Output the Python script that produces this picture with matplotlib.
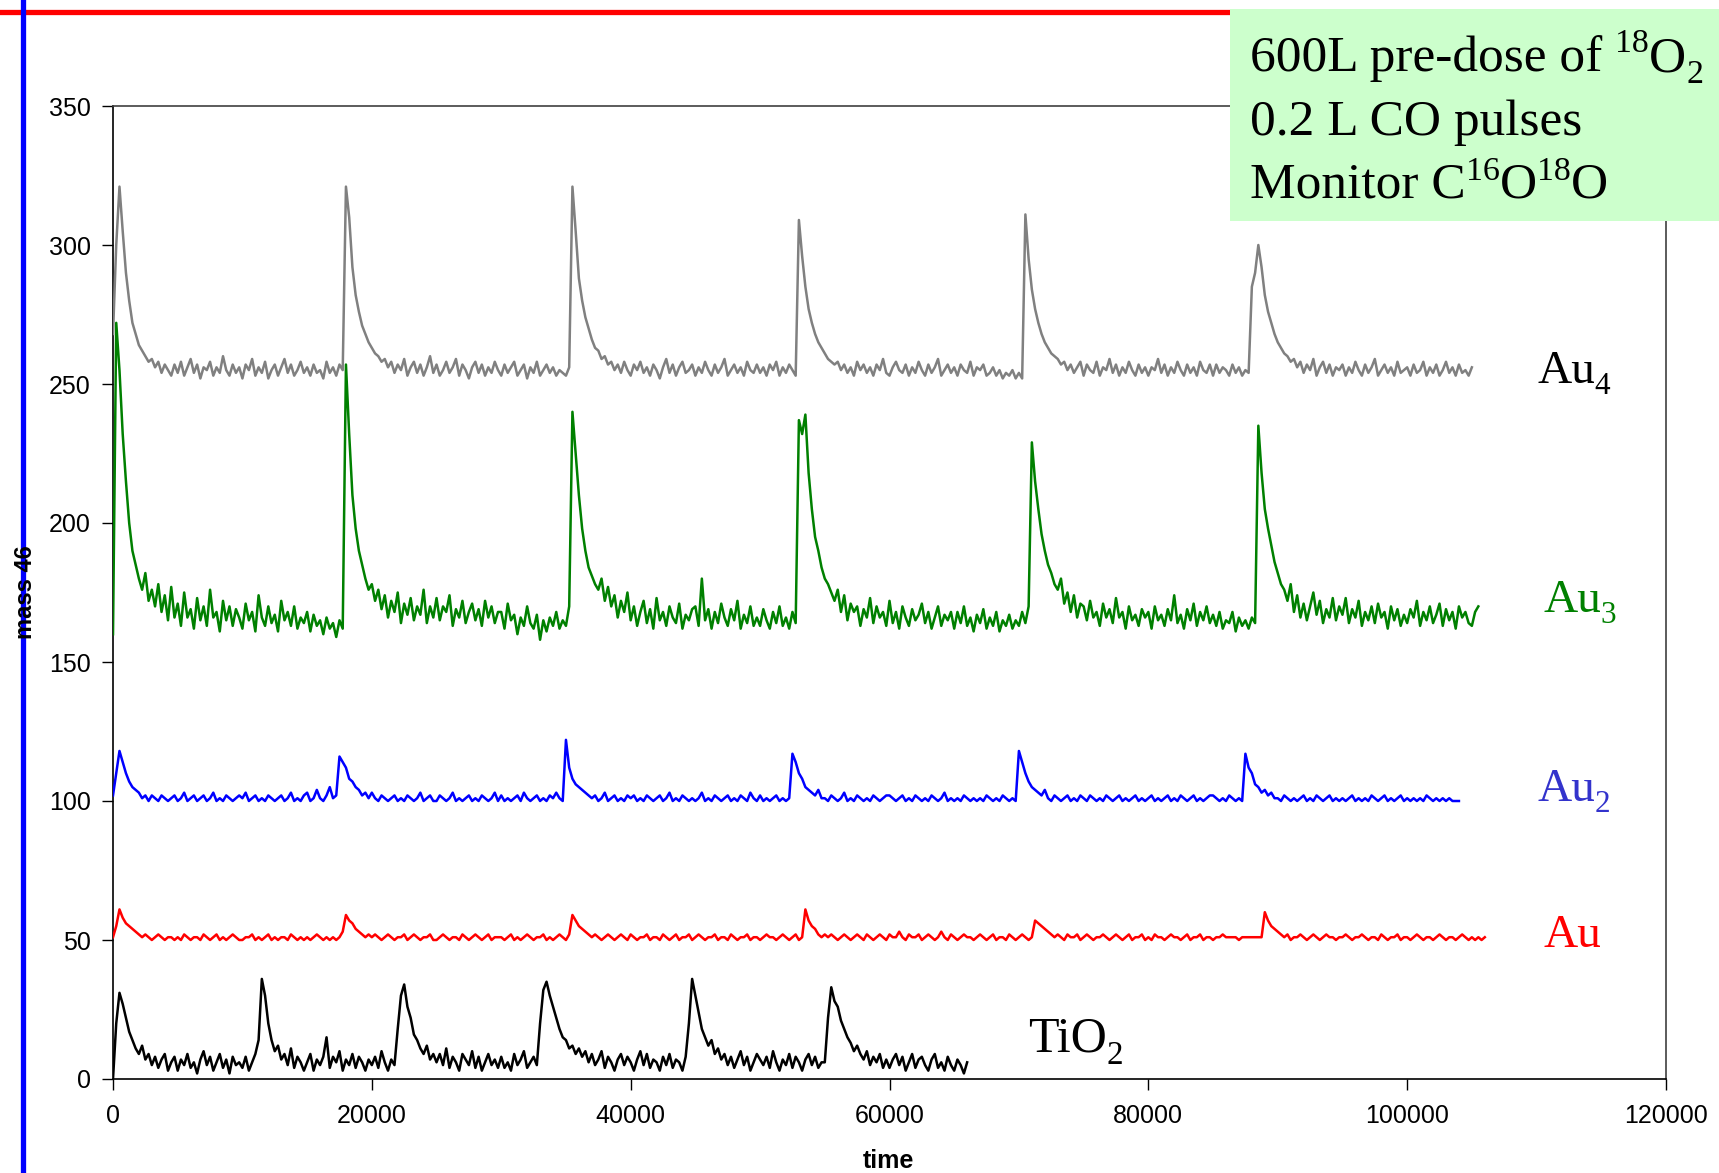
import numpy as np
import matplotlib
matplotlib.use("Agg")
import matplotlib.pyplot as plt
from matplotlib.lines import Line2D
from matplotlib.patches import Rectangle

# ---------------- data (time step 250) ----------------
time_step = 250

au4 = [
    268, 300, 321, 305, 290, 280, 272, 268, 264, 262, 260, 258, 259, 256, 258, 254, 257, 255, 253, 257,
    254, 258, 253, 256, 259, 254, 257, 252, 256, 255, 258, 253, 256, 254, 260, 255, 253, 257, 254, 256,
    252, 257, 255, 259, 253, 256, 254, 258, 252, 255, 257, 253, 256, 259, 254, 257, 253, 255, 258, 254,
    256, 253, 257, 254, 255, 252, 258, 254, 256, 253, 257, 255, 321, 310, 292, 282, 276, 271, 268, 265,
    263, 261, 260, 258, 259, 256, 258, 254, 257, 255, 259, 253, 256, 258, 254, 257, 253, 256, 260, 254,
    257, 253, 255, 258, 254, 256, 259, 253, 257, 255, 252, 256, 258, 254, 257, 253, 256, 254, 258, 255,
    253, 257, 254, 256, 258, 253, 255, 257, 252, 256, 254, 258, 253, 255, 257, 254, 256, 253, 255, 254,
    253, 256, 321, 305, 288, 280, 274, 270, 266, 263, 262, 259, 260, 257, 258, 255, 257, 254, 258, 255,
    253, 257, 255, 258, 254, 256, 253, 257, 255, 252, 256, 259, 254, 257, 253, 256, 258, 254, 255, 257,
    253, 256, 254, 258, 255, 253, 257, 254, 256, 259, 253, 255, 257, 254, 256, 253, 258, 255, 254, 257,
    254, 256, 253, 257, 255, 258, 253, 256, 254, 257, 255, 253, 309, 296, 285, 277, 272, 268, 265, 263,
    261, 259, 258, 257, 258, 255, 257, 254, 256, 253, 258, 255, 257, 254, 256, 253, 257, 255, 259, 254,
    253, 256, 258, 255, 254, 257, 253, 256, 254, 258, 255, 253, 257, 254, 256, 259, 253, 255, 257, 254,
    256, 253, 257, 255, 254, 258, 253, 256, 255, 257, 253, 254, 256, 253, 255, 252, 254, 253, 255, 252,
    254, 252, 311, 295, 284, 277, 272, 268, 265, 263, 261, 260, 259, 257, 258, 255, 257, 254, 256, 258,
    253, 257, 255, 254, 258, 253, 256, 255, 259, 254, 257, 253, 256, 254, 258, 255, 253, 257, 254, 256,
    253, 256, 255, 259, 254, 257, 253, 256, 254, 258, 255, 253, 257, 254, 256, 253, 258, 255, 254, 257,
    253, 257, 254, 256, 255, 253, 257, 254, 256, 253, 255, 254, 285, 290, 300, 292, 282, 276, 272, 268,
    265, 263, 261, 260, 258, 259, 256, 258, 254, 257, 255, 259, 253, 256, 258, 254, 257, 253, 256, 255,
    257, 253, 256, 254, 258, 255, 253, 257, 254, 256, 259, 253, 255, 257, 254, 256, 253, 258, 254, 255,
    256, 253, 257, 254, 255, 258, 253, 256, 254, 257, 253, 255, 258, 254, 256, 253, 257, 254, 255, 253,
    256,
]

au3 = [
    160, 272, 255, 232, 215, 200, 190, 185, 180, 176, 182, 172, 176, 170, 178, 168, 174, 165, 177, 166,
    171, 163, 175, 166, 169, 162, 173, 165, 170, 163, 176, 166, 168, 161, 172, 165, 170, 163, 169, 166,
    162, 171, 165, 168, 161, 174, 166, 163, 170, 164, 167, 161, 172, 165, 168, 163, 170, 162, 166, 164,
    168, 161, 167, 163, 165, 160, 166, 162, 164, 159, 165, 162, 257, 232, 210, 198, 190, 185, 180, 176,
    178, 172, 176, 169, 174, 166, 172, 168, 175, 164, 171, 167, 173, 165, 170, 167, 176, 164, 170, 166,
    173, 165, 170, 168, 174, 163, 169, 166, 172, 164, 168, 171, 165, 169, 163, 172, 166, 170, 164, 168,
    168, 162, 171, 165, 167, 160, 166, 163, 170, 164, 162, 167, 158, 165, 161, 166, 163, 168, 162, 165,
    163, 170, 240, 225, 210, 198, 190, 184, 181, 178, 176, 180, 172, 177, 170, 174, 166, 172, 168, 175,
    165, 170, 163, 168, 172, 164, 169, 162, 173, 165, 168, 163, 170, 166, 164, 171, 162, 167, 165, 169,
    170, 163, 180, 165, 169, 162, 168, 164, 171, 166, 163, 169, 165, 172, 162, 167, 164, 170, 163, 166,
    163, 169, 165, 162, 168, 164, 170, 163, 166, 162, 168, 164, 237, 232, 239, 218, 205, 195, 190, 184,
    180, 178, 175, 172, 176, 168, 174, 165, 171, 168, 170, 163, 169, 166, 173, 164, 170, 166, 168, 163,
    172, 164, 168, 162, 170, 166, 163, 169, 165, 167, 171, 164, 168, 162, 166, 170, 163, 167, 165, 168,
    162, 168, 164, 170, 163, 166, 161, 167, 164, 169, 162, 166, 163, 168, 161, 165, 163, 167, 162, 165,
    163, 168, 164, 170, 229, 215, 205, 196, 190, 185, 182, 178, 176, 180, 171, 175, 168, 174, 166, 171,
    170, 165, 172, 166, 168, 163, 171, 166, 169, 164, 173, 166, 168, 162, 170, 165, 167, 163, 169, 166,
    168, 162, 170, 165, 167, 163, 169, 165, 174, 164, 167, 162, 169, 165, 171, 163, 168, 165, 170, 164,
    167, 163, 168, 162, 165, 164, 168, 161, 166, 163, 165, 162, 166, 164, 235, 218, 205, 198, 192, 186,
    182, 178, 176, 172, 178, 168, 174, 166, 171, 165, 170, 175, 167, 172, 164, 169, 166, 173, 165, 170,
    167, 173, 164, 169, 166, 172, 163, 168, 165, 170, 164, 171, 166, 168, 162, 170, 165, 169, 163, 167,
    164, 169, 166, 172, 163, 168, 165, 170, 164, 167, 171, 163, 169, 165, 168, 162, 170, 166, 168, 164,
    163, 168, 170,
]

au2 = [
    102, 110, 118, 114, 110, 107, 105, 104, 103, 101, 102, 100, 102, 101, 100, 102, 101, 100, 101, 102,
    100, 101, 103, 100, 101, 102, 100, 101, 102, 100, 101, 103, 100, 101, 100, 102, 101, 100, 101, 102,
    101, 103, 100, 101, 102, 100, 101, 100, 102, 101, 100, 101, 102, 100, 101, 103, 100, 101, 100, 102,
    103, 100, 101, 104, 101, 100, 102, 105, 101, 102, 116, 114, 112, 108, 107, 105, 104, 102, 103, 101,
    103, 101, 100, 102, 101, 100, 101, 102, 100, 101, 100, 102, 101, 100, 101, 103, 100, 101, 102, 100,
    100, 102, 101, 100, 101, 103, 100, 101, 100, 101, 102, 100, 101, 100, 102, 101, 100, 101, 103, 100,
    102, 100, 101, 100, 101, 102, 100, 103, 101, 100, 101, 102, 100, 101, 100, 102, 101, 103, 101, 100,
    122, 112, 108, 106, 105, 104, 103, 102, 101, 102, 100, 101, 103, 100, 101, 102, 100, 101, 100, 102,
    101, 102, 100, 101, 100, 102, 101, 100, 101, 102, 100, 101, 103, 100, 101, 100, 102, 101, 100, 101,
    100, 101, 103, 100, 101, 100, 102, 101, 100, 101, 102, 100, 101, 100, 102, 101, 100, 103, 101, 100,
    102, 100, 101, 100, 101, 102, 100, 101, 100, 101, 117, 114, 110, 108, 105, 104, 103, 102, 104, 101,
    101, 100, 102, 101, 100, 101, 103, 100, 101, 100, 102, 101, 100, 101, 100, 102, 101, 100, 101, 102,
    102, 101, 100, 101, 102, 100, 101, 100, 102, 101, 100, 101, 100, 102, 101, 100, 101, 103, 100, 101,
    100, 101, 100, 102, 101, 100, 101, 100, 101, 100, 102, 101, 100, 101, 100, 102, 101, 100, 101, 100,
    118, 114, 110, 107, 105, 104, 103, 102, 104, 101, 100, 102, 101, 100, 101, 102, 100, 101, 100, 102,
    101, 100, 102, 101, 100, 101, 100, 102, 101, 100, 101, 102, 100, 101, 100, 101, 102, 100, 101, 100,
    101, 102, 100, 101, 100, 101, 102, 100, 101, 100, 102, 101, 100, 101, 102, 100, 101, 100, 101, 102,
    102, 101, 100, 101, 100, 102, 101, 100, 101, 100, 117, 112, 110, 106, 105, 103, 104, 102, 103, 101,
    101, 100, 102, 101, 100, 101, 100, 101, 102, 100, 101, 100, 102, 101, 100, 101, 102, 100, 101, 100,
    101, 100, 101, 102, 100, 101, 100, 101, 100, 102, 101, 100, 101, 102, 100, 101, 100, 101, 102, 100,
    101, 100, 101, 100, 101, 100, 102, 101, 100, 101, 100, 101, 100, 101, 100, 100, 100,
]

au1 = [
    51, 55, 61, 58, 56, 55, 54, 53, 52, 51, 52, 51, 50, 51, 52, 51, 50, 51, 51, 50,
    51, 50, 52, 51, 50, 51, 51, 50, 52, 51, 50, 51, 52, 50, 51, 50, 51, 52, 51, 50,
    50, 51, 51, 52, 50, 51, 50, 51, 52, 50, 51, 50, 51, 51, 50, 52, 51, 50, 51, 50,
    51, 50, 51, 52, 51, 50, 51, 50, 51, 50, 51, 53, 59, 57, 56, 54, 53, 52, 51, 52,
    51, 52, 51, 50, 51, 52, 51, 50, 51, 51, 52, 50, 51, 52, 51, 50, 51, 51, 52, 50,
    50, 51, 52, 51, 50, 51, 51, 50, 52, 51, 50, 51, 52, 51, 50, 51, 52, 50, 51, 51,
    51, 50, 51, 52, 50, 51, 50, 51, 52, 51, 50, 51, 51, 52, 50, 51, 50, 51, 52, 51,
    50, 52, 59, 57, 55, 54, 53, 52, 51, 52, 51, 50, 51, 52, 51, 50, 51, 52, 51, 50,
    52, 51, 50, 51, 51, 52, 50, 51, 51, 50, 52, 51, 50, 51, 52, 50, 51, 51, 52, 50,
    51, 52, 51, 50, 51, 51, 52, 50, 51, 51, 50, 52, 51, 50, 51, 51, 52, 50, 51, 51,
    50, 51, 52, 51, 51, 50, 51, 52, 51, 50, 51, 52, 50, 51, 61, 57, 55, 54, 52, 51,
    52, 51, 52, 51, 50, 51, 52, 51, 50, 51, 52, 51, 50, 52, 51, 50, 51, 52, 51, 50,
    52, 51, 51, 53, 51, 50, 52, 51, 51, 52, 50, 51, 52, 51, 50, 51, 53, 51, 50, 52,
    51, 50, 51, 52, 51, 51, 50, 51, 52, 51, 50, 51, 52, 50, 51, 51, 50, 52, 51, 50,
    51, 52, 51, 50, 51, 57, 56, 55, 54, 53, 52, 51, 52, 51, 50, 52, 51, 51, 52, 50,
    51, 52, 51, 50, 51, 51, 52, 51, 50, 51, 52, 51, 50, 51, 52, 50, 51, 51, 52, 50,
    51, 50, 52, 51, 51, 50, 51, 52, 51, 51, 50, 51, 52, 50, 51, 51, 52, 50, 51, 51,
    50, 51, 51, 52, 51, 51, 51, 51, 50, 51, 51, 51, 51, 51, 51, 51, 60, 57, 55, 54,
    53, 52, 51, 52, 50, 51, 51, 52, 51, 50, 51, 52, 51, 50, 51, 52, 51, 51, 50, 51,
    51, 52, 51, 50, 51, 51, 52, 51, 50, 51, 51, 50, 52, 51, 50, 51, 51, 52, 50, 51,
    51, 50, 51, 52, 51, 50, 51, 51, 50, 51, 52, 51, 50, 51, 51, 50, 51, 52, 51, 50,
    51, 50, 51, 50, 51,
]

tio2 = [
    0, 20, 31, 27, 22, 17, 14, 11, 9, 12, 7, 9, 5, 8, 4, 7, 9, 3, 6, 8,
    3, 7, 5, 9, 4, 6, 2, 7, 10, 5, 8, 3, 6, 9, 4, 7, 2, 8, 5, 6,
    4, 8, 3, 6, 9, 14, 36, 30, 20, 14, 10, 12, 7, 9, 5, 11, 4, 8, 6, 3,
    6, 9, 3, 7, 5, 8, 15, 4, 8, 6, 10, 3, 7, 5, 9, 4, 8, 6, 3, 7,
    5, 8, 4, 10, 6, 3, 7, 5, 18, 30, 34, 26, 22, 16, 14, 11, 9, 12, 7, 9,
    6, 9, 5, 11, 4, 8, 6, 3, 9, 7, 5, 10, 4, 8, 3, 6, 9, 5, 7, 4,
    8, 4, 6, 3, 9, 5, 7, 10, 4, 6, 8, 5, 20, 32, 35, 30, 26, 22, 18, 15,
    14, 11, 12, 9, 11, 8, 10, 6, 9, 5, 7, 10, 4, 8, 6, 3, 7, 9, 5, 8,
    6, 3, 7, 10, 5, 9, 4, 7, 6, 3, 8, 5, 9, 4, 7, 6, 3, 8, 20, 36,
    30, 24, 18, 15, 12, 14, 9, 11, 7, 9, 5, 8, 4, 7, 10, 5, 8, 3, 6, 9,
    7, 5, 8, 4, 10, 6, 3, 7, 5, 9, 4, 8, 6, 3, 7, 9, 5, 8, 4, 6,
    6, 22, 33, 28, 26, 21, 18, 15, 13, 10, 12, 9, 7, 10, 5, 8, 6, 9, 4, 7,
    4, 7, 9, 5, 8, 3, 6, 9, 4, 7, 8, 5, 3, 7, 9, 4, 6, 3, 8, 5,
    3, 7, 5, 2, 6,
]

series_names = ["Au4", "Au3", "Au2", "Au", "TiO2"]
series_values = [au4, au3, au2, au1, tio2]
series_colors = ["#808080", "#008000", "#0000FF", "#FF0000", "#000000"]

x_ticks = [0, 20000, 40000, 60000, 80000, 100000, 120000]
y_ticks = [0, 50, 100, 150, 200, 250, 300, 350]

# ---------------- figure ----------------
W, H = 1719, 1173
fig = plt.figure(figsize=(W / 100, H / 100), dpi=100)

def fx(px):
    return px / W

def fy(py):
    return 1 - py / H

ax = fig.add_axes([fx(113), fy(1079), fx(1666) - fx(113), fy(106) - fy(1079)])

for vals, col in zip(series_values, series_colors):
    t = np.arange(len(vals)) * time_step
    ax.plot(t, vals, color=col, lw=1.8, zorder=3)

ax.set_xlim(0, 120000)
ax.set_ylim(0, 350)
ax.set_xticks(x_ticks)
ax.set_yticks(y_ticks)
ax.set_xticklabels([str(v) for v in x_ticks])
ax.set_yticklabels([str(v) for v in y_ticks])
for lab in ax.get_xticklabels() + ax.get_yticklabels():
    lab.set_fontfamily('Liberation Sans')
    lab.set_fontsize(18)
ax.tick_params(axis='both', direction='out', length=8, width=1, color='#000000')
ax.tick_params(axis='x', pad=10)
ax.tick_params(axis='y', pad=8)
for s in ['left', 'bottom']:
    ax.spines[s].set_color('#000000')
    ax.spines[s].set_linewidth(1.2)
for s in ['top', 'right']:
    ax.spines[s].set_color('#404040')
    ax.spines[s].set_linewidth(1.2)

fig.text(fx(888), fy(1161), "time", ha='center', va='center',
         fontfamily='Liberation Sans', fontweight='bold', fontsize=18, zorder=10)
fig.text(fx(26), fy(592), "mass 46", ha='center', va='center', rotation=90,
         fontfamily='Liberation Sans', fontweight='bold', fontsize=17, zorder=10)

# decorative lines
fig.add_artist(Line2D([0, fx(1230)], [fy(12), fy(12)], color='#FF0000', lw=3.8, zorder=5))
fig.add_artist(Line2D([fx(23), fx(23)], [0, 1], color='#0000FF', lw=3.8, zorder=6))

# annotation box
fig.add_artist(Rectangle((fx(1230), fy(221)), fx(1719) - fx(1230), fy(9) - fy(221),
                         facecolor='#CCFFCC', edgecolor='none', zorder=7))

renderer = fig.canvas.get_renderer()
PX = 100 / 72.0

def rich(x, y, parts, fs, color='#000000'):
    """Draw text made of normal / sub / sup pieces, starting at pixel (x, y baseline)."""
    cx = x
    for txt, kind in parts:
        if kind == 'n':
            size, dy = fs, 0.0
        elif kind == 'sub':
            size, dy = fs * 0.66, -0.24 * fs * PX
        else:
            size, dy = fs * 0.66, 0.36 * fs * PX
        t = fig.text(cx / W, (H - y + dy) / H, txt, ha='left', va='baseline',
                     color=color, fontfamily='Liberation Serif', fontsize=size, zorder=8)
        bb = t.get_window_extent(renderer)
        cx = bb.x1

rich(1250, 71, [("600L pre-dose of ", 'n'), ("18", 'sup'), ("O", 'n'), ("2", 'sub')], 37)
rich(1250, 135, [("0.2 L CO pulses", 'n')], 37)
rich(1250, 198, [("Monitor C", 'n'), ("16", 'sup'), ("O", 'n'), ("18", 'sup'), ("O", 'n')], 37)

# series labels
rich(1537, 383, [("Au", 'n'), ("4", 'sub')], 34, '#000000')
rich(1543, 612, [("Au", 'n'), ("3", 'sub')], 34, '#008000')
rich(1537, 801, [("Au", 'n'), ("2", 'sub')], 34, '#3333CC')
rich(1543, 947, [("Au", 'n')], 34, '#FF0000')
rich(1028, 1052, [("TiO", 'n'), ("2", 'sub')], 36, '#000000')

fig.savefig("out.png", dpi=100)
